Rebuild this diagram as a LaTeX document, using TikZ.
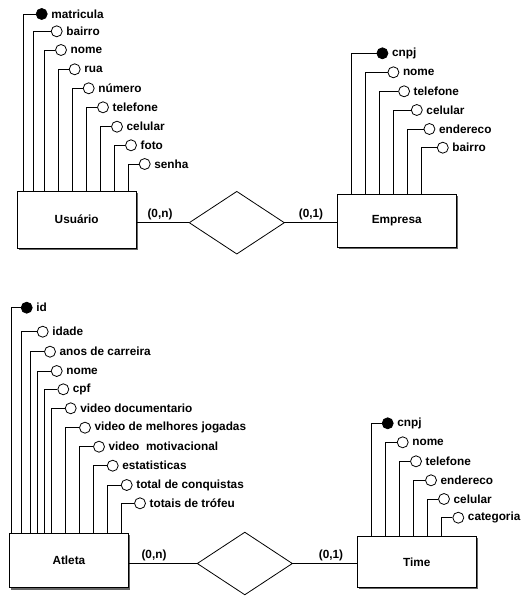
\documentclass[tikz,border=0pt]{standalone}
\usepackage{fontspec}
\setmainfont{Liberation Sans}
\usetikzlibrary{shapes.geometric,shadows}

\tikzset{
  every node/.style={font=\fontsize{11.8}{13}\selectfont\bfseries},
  entity/.style={draw, rectangle, fill=white, line width=0.9pt, inner sep=0pt,
    general shadow={fill=black!60, shadow xshift=1.8pt, shadow yshift=-1.8pt}},
  attr/.style={draw, circle, fill=white, minimum size=11pt, inner sep=0pt,
    line width=0.8pt, label distance=1.2pt},
  key/.style={attr, fill=black},
  rel/.style={draw, diamond, minimum width=95pt, minimum height=62.5pt,
    inner sep=0pt, outer sep=0pt, line width=0.8pt},
  card/.style={inner sep=0pt}
}

\begin{document}
\begin{tikzpicture}[x=1pt,y=-1pt,line width=0.8pt]
  \useasboundingbox (0,0) rectangle (524,599);

  % the entities
  \node [entity, minimum width=119.5pt, minimum height=57pt] (usr) at (76.7,219.5) {Usuário};
  \node [entity, minimum width=118.7pt, minimum height=53pt] (emp) at (396.7,220.8) {Empresa};
  \node [entity, minimum width=119pt, minimum height=54.4pt] (atl) at (68.9,560.5) {Atleta};
  \node [entity, minimum width=118.5pt, minimum height=51.7pt] (tim) at (416.8,561.8) {Time};

  % the relationships
  \node [rel] (r1) at (236.8,222.7) {};
  \node [rel] (r2) at (244.8,563.5) {};
  \draw (usr.east |- r1) -- (r1.west);
  \draw (r1.east) -- (r1 -| emp.west);
  \draw (atl.east |- r2) -- (r2.west);
  \draw (r2.east) -- (r2 -| tim.west);

  % cardinalities
  \node [card] (c1) at (160,214) {(0,n)};
  \node [card] (c2) at (311,214) {(0,1)};
  \node [card] (c3) at (154,555) {(0,n)};
  \node [card] (c4) at (331,555) {(0,1)};

  % attributes of Usuario
  \node [key, label=right:matricula] (u1) at (41.7,14) {};
  \draw (u1.west) -| ([xshift=7pt]usr.north west);
  \foreach \n/\dx/\cx/\cy/\txt in {
      2/17.3/56.7/31.3/bairro,
      3/28.3/61/50/nome,
      4/42.3/74.7/69.3/rua,
      5/56.3/88.7/88.3/número,
      6/70.3/103/107.3/telefone,
      7/84.3/117/126.7/celular,
      8/98.3/131/145.3/foto,
      9/112.3/144.7/164/senha}
  {
    \node [attr, label=right:\txt] (u\n) at (\cx,\cy) {};
    \draw (u\n.west) -| ([xshift=\dx pt]usr.north west);
  }

  % attributes of Empresa
  \node [key, label=right:cnpj] (e1) at (382.4,53.3) {};
  \draw (e1.west) -| ([xshift=14.4pt]emp.north west);
  \foreach \n/\dx/\cx/\cy/\txt in {
      2/28.4/393.4/72.3/nome,
      3/42.4/404.1/91.3/telefone,
      4/56.4/416.8/110/celular,
      5/70.4/429.4/129/endereco,
      6/84.4/442.8/147.7/bairro}
  {
    \node [attr, label=right:\txt] (e\n) at (\cx,\cy) {};
    \draw (e\n.west) -| ([xshift=\dx pt]emp.north west);
  }

  % attributes of Atleta
  \node [key, label=right:id] (a1) at (26.7,307.7) {};
  \draw (a1.west) -| ([xshift=2.4pt]atl.north west);
  \foreach \n/\dx/\cx/\cy/\txt in {
      2/12.4/42.7/331.7/idade,
      3/21.4/50/351.7/anos de carreira,
      4/28.4/56.7/371/nome,
      5/35.4/63.3/389.3/cpf,
      6/42.4/70.7/408.3/video documentario,
      7/56.4/85/427.7/video de melhores jogadas,
      8/70.4/99/446.7/video~~motivacional,
      9/84.4/112.7/465.7/estatisticas,
      10/98.4/126.7/485/total de conquistas,
      11/112.4/140/503.3/totais de trófeu}
  {
    \node [attr, label=right:\txt] (a\n) at (\cx,\cy) {};
    \draw (a\n.west) -| ([xshift=\dx pt]atl.north west);
  }

  % attributes of Time
  \node [key, label=right:cnpj] (t1) at (387.7,423.3) {};
  \draw (t1.west) -| ([xshift=14.2pt]tim.north west);
  \foreach \n/\dx/\cx/\cy/\txt in {
      2/28.2/402.7/442.3/nome,
      3/42.2/416/461.3/telefone,
      4/56.2/431/480.3/endereco,
      5/70.2/444/499/celular,
      6/84.2/458.3/517.7/categoria}
  {
    \node [attr, label=right:\txt] (t\n) at (\cx,\cy) {};
    \draw (t\n.west) -| ([xshift=\dx pt]tim.north west);
  }
\end{tikzpicture}
\end{document}
